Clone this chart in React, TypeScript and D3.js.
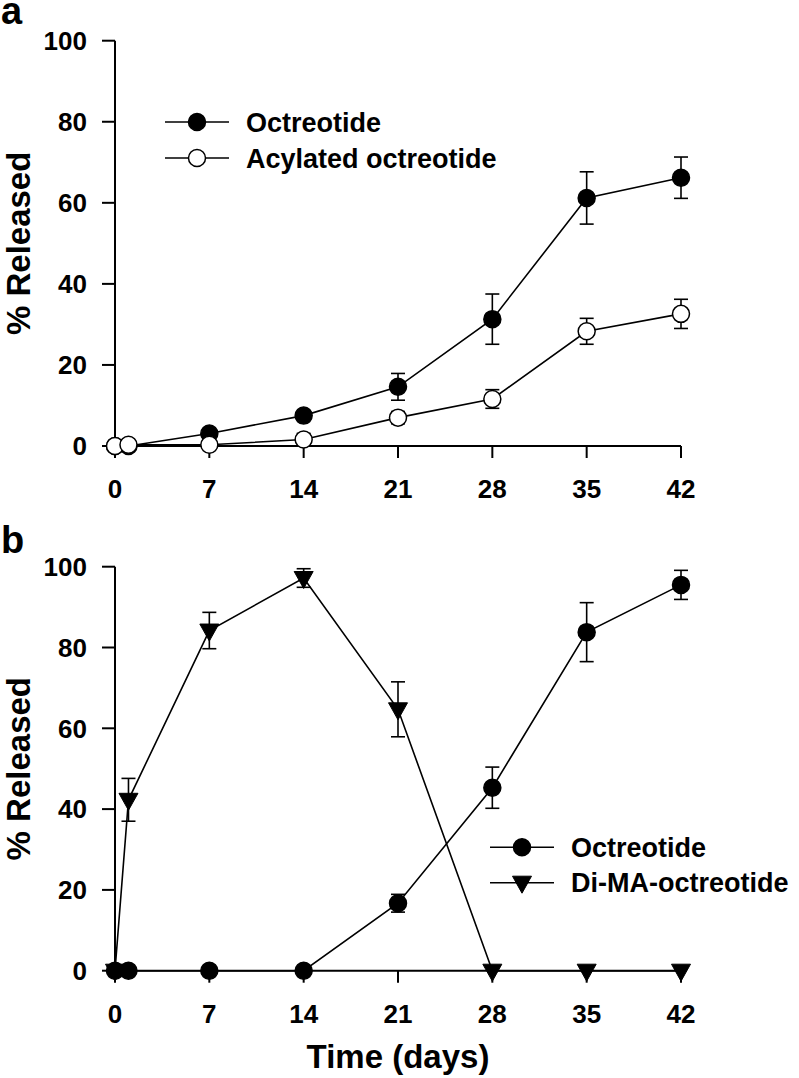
import React from "react";
import * as d3 from "d3";

const days = [0, 1, 7, 14, 21, 28, 35, 42];
const xTicks = [0, 7, 14, 21, 28, 35, 42];
const yTicks = [0, 20, 40, 60, 80, 100];

// Panel a
const aOctreotide = [0, 0, 3.1, 7.5, 14.6, 31.3, 61.2, 66.2];
const aOctreotideErr = [0, 0, 0.8, 1.0, 3.3, 6.2, 6.45, 5.1];
const aAcylated = [0, 0.3, 0.3, 1.6, 7.0, 11.6, 28.3, 32.6];
const aAcylatedErr = [0, 0, 0.5, 1.5, 1.5, 2.3, 3.2, 3.6];

// Panel b
const bOctreotide = [0, 0, 0, 0, 16.7, 45.3, 83.8, 95.5];
const bOctreotideErr = [0, 0, 0, 0, 2.2, 5.1, 7.3, 3.6];
const bDiMA = [0, 42.3, 84.2, 97.2, 64.7, 0, 0, 0];
const bDiMAErr = [0, 5.3, 4.5, 2.3, 6.8, 0, 0, 0];

const FONT = "'Liberation Sans', Arial, Helvetica, sans-serif";

type Series = {
  values: number[];
  errs: number[];
  marker: "filled" | "open" | "tri";
};

const x = d3.scaleLinear().domain([0, 42]).range([115, 681]);

function Marker({ kind, cx, cy }: { kind: string; cx: number; cy: number }) {
  if (kind === "tri") {
    const p = d3.path();
    p.moveTo(cx - 9.5, cy - 6.5);
    p.lineTo(cx + 9.5, cy - 6.5);
    p.lineTo(cx, cy + 10.5);
    p.closePath();
    return <path d={p.toString()} fill="#000" stroke="#000" strokeWidth={1} />;
  }
  return (
    <circle
      cx={cx}
      cy={cy}
      r={8.5}
      fill={kind === "filled" ? "#000" : "#fff"}
      stroke="#000"
      strokeWidth={1.5}
    />
  );
}

function Panel({
  y0,
  y100,
  series,
  label,
  labelY,
  legend,
  legendX,
  legendY,
  showXTitle,
}: {
  y0: number;
  y100: number;
  series: Series[];
  label: string;
  labelY: number;
  legend: { name: string; marker: string }[];
  legendX: number;
  legendY: number[];
  showXTitle: boolean;
}) {
  const y = d3.scaleLinear().domain([0, 100]).range([y0, y100]);
  const line = d3
    .line<number>()
    .x((_, i) => x(days[i]))
    .y((v) => y(v));
  const midY = (y0 + y100) / 2;
  return (
    <g>
      <text x={1} y={labelY} fontFamily={FONT} fontWeight="bold" fontSize={38}>
        {label}
      </text>
      {/* axes */}
      <line x1={x(0)} x2={x(0)} y1={y(0) + 1} y2={y(100)} stroke="#000" strokeWidth={2} />
      <line x1={x(0) - 1} x2={x(42)} y1={y(0)} y2={y(0)} stroke="#000" strokeWidth={2} />
      {yTicks.map((t) => (
        <g key={"yt" + t}>
          <line x1={x(0) - 13} x2={x(0)} y1={y(t)} y2={y(t)} stroke="#000" strokeWidth={2} />
          <text
            x={87}
            y={y(t) + 9.3}
            textAnchor="end"
            fontFamily={FONT}
            fontWeight="bold"
            fontSize={26}
          >
            {t}
          </text>
        </g>
      ))}
      {xTicks.map((t) => (
        <g key={"xt" + t}>
          <line x1={x(t)} x2={x(t)} y1={y(0)} y2={y(0) + 12} stroke="#000" strokeWidth={2} />
          <text
            x={x(t)}
            y={y(0) + 52}
            textAnchor="middle"
            fontFamily={FONT}
            fontWeight="bold"
            fontSize={26}
          >
            {t}
          </text>
        </g>
      ))}
      <text
        transform={`translate(30, ${midY}) rotate(-90)`}
        textAnchor="middle"
        fontFamily={FONT}
        fontWeight="bold"
        fontSize={33}
      >
        % Released
      </text>
      {showXTitle && (
        <text
          x={(x(0) + x(42)) / 2}
          y={y(0) + 97}
          textAnchor="middle"
          fontFamily={FONT}
          fontWeight="bold"
          fontSize={33}
        >
          Time (days)
        </text>
      )}
      {/* lines */}
      {series.map((s, si) => (
        <path key={"l" + si} d={line(s.values) || ""} fill="none" stroke="#000" strokeWidth={1.6} />
      ))}
      {/* error bars */}
      {series.map((s, si) =>
        s.values.map((v, i) =>
          s.errs[i] > 0 ? (
            <g key={"e" + si + "-" + i} stroke="#000" strokeWidth={1.6}>
              <line x1={x(days[i])} x2={x(days[i])} y1={y(v + s.errs[i])} y2={y(v - s.errs[i])} />
              <line x1={x(days[i]) - 7} x2={x(days[i]) + 7} y1={y(v + s.errs[i])} y2={y(v + s.errs[i])} />
              <line x1={x(days[i]) - 7} x2={x(days[i]) + 7} y1={y(v - s.errs[i])} y2={y(v - s.errs[i])} />
            </g>
          ) : null
        )
      )}
      {/* markers */}
      {series.map((s, si) =>
        s.values.map((v, i) => (
          <Marker key={"m" + si + "-" + i} kind={s.marker} cx={x(days[i])} cy={y(v)} />
        ))
      )}
      {/* legend */}
      {legend.map((l, i) => (
        <g key={"lg" + i}>
          <line x1={legendX} x2={legendX + 64} y1={legendY[i]} y2={legendY[i]} stroke="#000" strokeWidth={1.6} />
          <Marker kind={l.marker} cx={legendX + 32} cy={legendY[i]} />
          <text
            x={legendX + 81}
            y={legendY[i] + 9.5}
            fontFamily={FONT}
            fontWeight="bold"
            fontSize={27}
          >
            {l.name}
          </text>
        </g>
      ))}
    </g>
  );
}

export default function App() {
  return (
    <svg
      width={799}
      height={1078}
      style={{ position: "absolute", left: 0, top: 0, background: "#fff" }}
    >
      <rect width={799} height={1078} fill="#fff" />
      <Panel
        y0={446}
        y100={40.7}
        label="a"
        labelY={24}
        series={[
          { values: aOctreotide, errs: aOctreotideErr, marker: "filled" },
          { values: aAcylated, errs: aAcylatedErr, marker: "open" },
        ]}
        legend={[
          { name: "Octreotide", marker: "filled" },
          { name: "Acylated octreotide", marker: "open" },
        ]}
        legendX={165}
        legendY={[122, 158]}
        showXTitle={false}
      />
      <Panel
        y0={970.7}
        y100={566.7}
        label="b"
        labelY={553}
        series={[
          { values: bDiMA, errs: bDiMAErr, marker: "tri" },
          { values: bOctreotide, errs: bOctreotideErr, marker: "filled" },
        ]}
        legend={[
          { name: "Octreotide", marker: "filled" },
          { name: "Di-MA-octreotide", marker: "tri" },
        ]}
        legendX={490}
        legendY={[847.3, 882.7]}
        showXTitle={true}
      />
    </svg>
  );
}
